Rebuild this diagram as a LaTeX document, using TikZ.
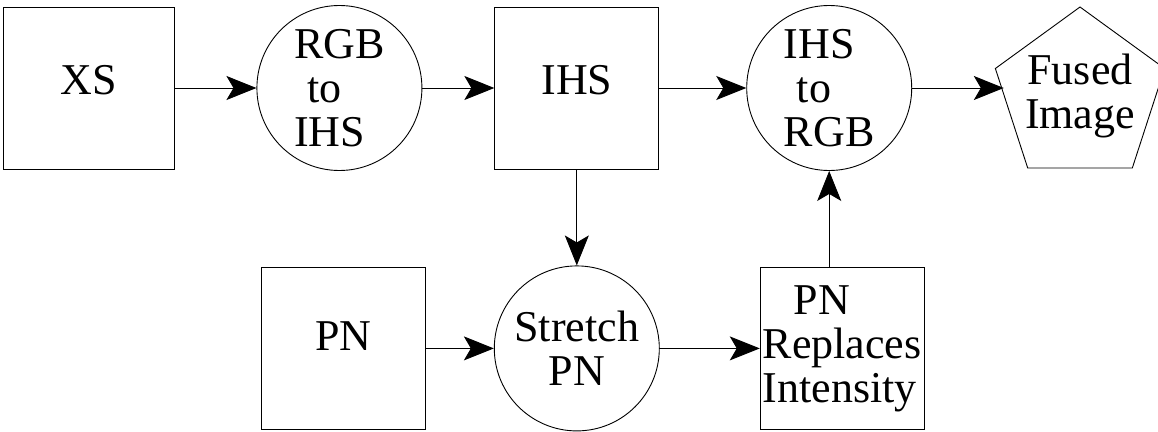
\documentclass[tikz,border=0pt]{standalone}
\usepackage{fontspec}
\newfontfamily\blockfont{Liberation Serif}
\usetikzlibrary{positioning,shapes.geometric,arrows.meta}

\begin{document}
\begin{tikzpicture}[x=1pt,y=1pt,
    every node/.style={font=\blockfont\fontsize{44pt}{44pt}\selectfont, line width=0.9pt},
    box/.style={draw, rectangle, minimum width=164pt, minimum height=162pt, inner sep=0pt},
    conv/.style={draw, circle, minimum size=165pt, inner sep=0pt, align=left},
    fuse/.style={draw, regular polygon, regular polygon sides=5, minimum size=178pt, inner sep=-15pt, align=center},
    flow/.style={line width=0.9pt, -{Stealth[length=30pt, width=24pt, inset=7pt]}}]
        \useasboundingbox (0,0) rectangle (1158,-431);
        \node [box, minimum width=171pt, text depth=17pt] (xs) at (88.5,-88) {XS};
        \node [conv, right=82pt of xs] (rgb2ihs) {RGB\\\hspace*{13pt}to\\IHS};
        \node [box, right=72pt of rgb2ihs, text depth=17pt] (ihs) {IHS};
        \node [conv, right=87pt of ihs] (ihs2rgb) {IHS\\\hspace*{13pt}to\\RGB};
        \node [fuse] (fused) at (1080,-96) {Fused\\Image};
        \node [conv, below=96pt of ihs, align=center] (stretch) {Stretch\\PN};
        \node [box, left=68pt of stretch, text depth=24pt] (pn) {PN};
        \node [box, right=100pt of stretch, align=left] (repl) {\hspace*{31pt}PN\\Replaces\\Intensity};
        \draw [flow] (xs) -- (rgb2ihs);
        \draw [flow] (rgb2ihs) -- (ihs);
        \draw [flow] (ihs) -- (ihs2rgb);
        \draw [flow] (ihs2rgb.east) -- (ihs2rgb.east -| fused.west);
        \draw [flow] (ihs) -- (stretch);
        \draw [flow] (pn) -- (stretch);
        \draw [flow] (stretch) -- (repl);
        \draw [flow] (ihs2rgb.south |- repl.north) -- (ihs2rgb.south);
      \end{tikzpicture}
\end{document}
